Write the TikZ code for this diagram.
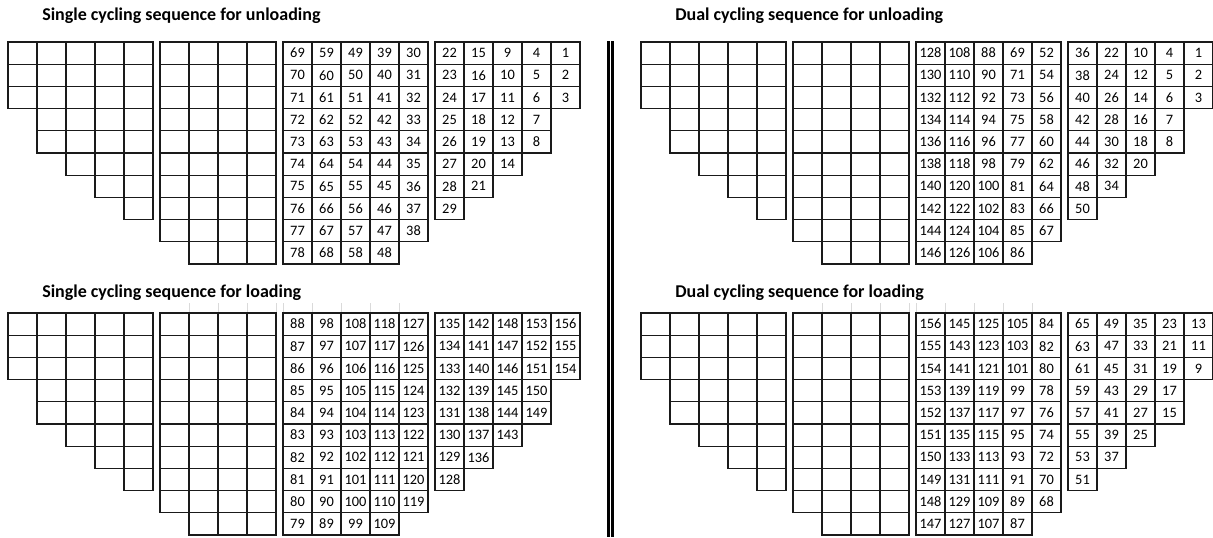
\documentclass[tikz,border=0pt]{standalone}
\usepackage{fontspec}
\setmainfont{Carlito}
\definecolor{gridink}{HTML}{1A1A1A}
\definecolor{gridfaint}{HTML}{DADADA}

% one column of numbered cells, top row first
\newcommand{\numcol}[3]{%
  \foreach \val [count=\row] in {#3}
    \node[cell] (#1-\row) at ({#2+14.5},{42+22.2*(\row-0.5)}) {\val};
}
% one column of empty cells
\newcommand{\blankcol}[3]{%
  \foreach \row in {1,...,#3}
    \node[cell] (#1-\row) at ({#2+14.5},{42+22.2*(\row-0.5)}) {};
}
% the two empty blocks on the left of every panel
\newcommand{\blankblocks}[1]{%
  \foreach \col/\len in {1/3,2/5,3/6,4/7,5/8}
    {\blankcol{#1-a\col}{8+29*(\col-1)}{\len}}
  \foreach \col/\len in {1/9,2/10,3/10,4/10}
    {\blankcol{#1-b\col}{160+29*(\col-1)}{\len}}
}

\begin{document}
\begin{tikzpicture}[
  x=0.75pt,
  y=-0.75pt,
  cell/.style={draw=gridink, line width=0.9pt, minimum width=21.75pt,
    minimum height=16.65pt, inner sep=0pt, text=black,
    font=\fontsize{10.8}{12}\selectfont},
  title/.style={anchor=base west, inner sep=0pt, text=black,
    font=\fontsize{13.5}{15}\selectfont\bfseries},
  divider/.style={black, line width=1.9pt},
  faint/.style={gridfaint, line width=0.6pt}
]
  \useasboundingbox (0,0) rectangle (1213,537);

  % ---- single cycling, unloading ---------------------------------------
  \node[title] (su-title) at (42,20) {Single cycling sequence for unloading};
  \begin{scope}
    \blankblocks{su}
    \numcol{su-c1}{283}{69,...,78}
    \numcol{su-c2}{312}{59,...,68}
    \numcol{su-c3}{341}{49,...,58}
    \numcol{su-c4}{370}{39,...,48}
    \numcol{su-c5}{399}{30,...,38}
    \numcol{su-d1}{435}{22,...,29}
    \numcol{su-d2}{464}{15,...,21}
    \numcol{su-d3}{493}{9,...,14}
    \numcol{su-d4}{522}{4,...,8}
    \numcol{su-d5}{551}{1,2,3}
  \end{scope}

  % ---- dual cycling, unloading -----------------------------------------
  \node[title] (du-title) at (675,20) {Dual cycling sequence for unloading};
  \begin{scope}[shift={(633,0)}]
    \blankblocks{du}
    \numcol{du-c1}{283}{128,130,...,146}
    \numcol{du-c2}{312}{108,110,...,126}
    \numcol{du-c3}{341}{88,90,...,106}
    \numcol{du-c4}{370}{69,71,73,75,77,79,81,83,85,86}
    \numcol{du-c5}{399}{52,54,56,58,60,62,64,66,67}
    \numcol{du-d1}{435}{36,38,...,50}
    \numcol{du-d2}{464}{22,24,...,34}
    \numcol{du-d3}{493}{10,12,...,20}
    \numcol{du-d4}{522}{4,...,8}
    \numcol{du-d5}{551}{1,2,3}
  \end{scope}

  % ---- single cycling, loading -----------------------------------------
  \node[title] (sl-title) at (42,297) {Single cycling sequence for loading};
  \begin{scope}[shift={(0,271)}]
    \foreach \x in {189,218,247,276,283,312,341,370,399}
      \draw[faint] (\x,32) -- (\x,42);
    \blankblocks{sl}
    \numcol{sl-c1}{283}{88,87,...,79}
    \numcol{sl-c2}{312}{98,97,...,89}
    \numcol{sl-c3}{341}{108,107,...,99}
    \numcol{sl-c4}{370}{118,117,...,109}
    \numcol{sl-c5}{399}{127,126,...,119}
    \numcol{sl-d1}{435}{135,134,...,128}
    \numcol{sl-d2}{464}{142,141,...,136}
    \numcol{sl-d3}{493}{148,147,...,143}
    \numcol{sl-d4}{522}{153,152,...,149}
    \numcol{sl-d5}{551}{156,155,154}
  \end{scope}

  % ---- dual cycling, loading -------------------------------------------
  \node[title] (dl-title) at (675,297) {Dual cycling sequence for loading};
  \begin{scope}[shift={(633,271)}]
    \foreach \x in {189,218,247,276,283,312,341,370,399}
      \draw[faint] (\x,32) -- (\x,42);
    \blankblocks{dl}
    \numcol{dl-c1}{283}{156,155,...,147}
    \numcol{dl-c2}{312}{145,143,...,127}
    \numcol{dl-c3}{341}{125,123,...,107}
    \numcol{dl-c4}{370}{105,103,...,87}
    \numcol{dl-c5}{399}{84,82,...,68}
    \numcol{dl-d1}{435}{65,63,...,51}
    \numcol{dl-d2}{464}{49,47,...,37}
    \numcol{dl-d3}{493}{35,33,...,25}
    \numcol{dl-d4}{522}{23,21,...,15}
    \numcol{dl-d5}{551}{13,11,9}
  \end{scope}

  % ---- double rule between the two halves ------------------------------
  \draw[divider] (608.5,41) -- (608.5,537);
  \draw[divider] (612.5,41) -- (612.5,537);
\end{tikzpicture}
\end{document}
